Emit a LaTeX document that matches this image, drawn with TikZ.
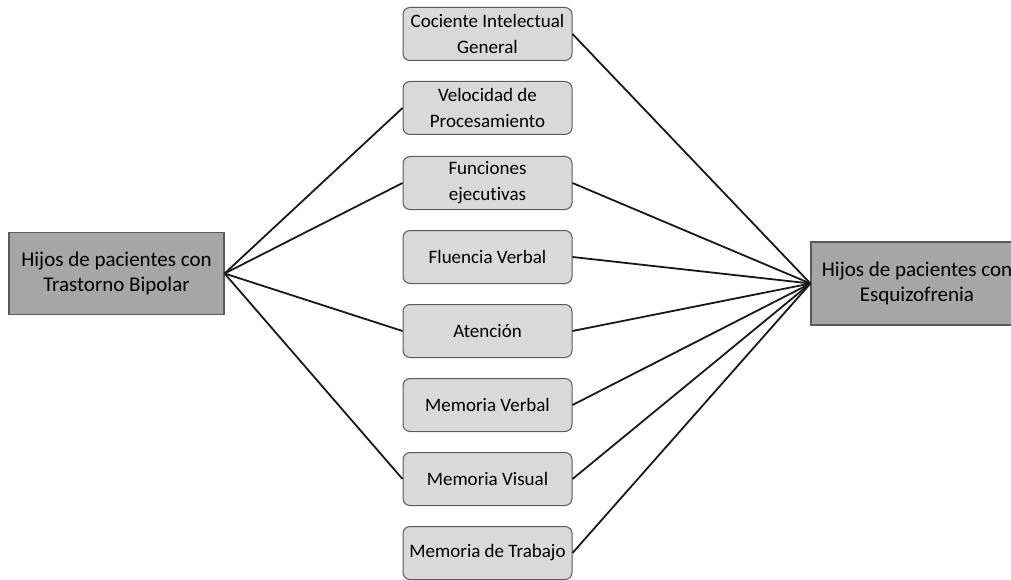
\documentclass[tikz,border=0pt]{standalone}
\usepackage{fontspec}
\setmainfont[Ligatures={NoCommon}]{Carlito}
\usetikzlibrary{positioning}
\definecolor{outerfill}{RGB}{166,166,166}
\definecolor{innerfill}{RGB}{217,217,217}
\definecolor{boxline}{RGB}{90,90,90}

\begin{document}
\begin{tikzpicture}[x=1pt,y=-1pt,
  groupbox/.style={draw=boxline,fill=outerfill,line width=1.2pt,rectangle,
                minimum height=82pt,align=center,font=\fontsize{21}{25}\selectfont},
  areabox/.style={draw=boxline,fill=innerfill,line width=1pt,rectangle,rounded corners=7pt,
                 minimum width=169pt,minimum height=53pt,inner xsep=2pt,align=center,
                 font=\fontsize{19}{26}\selectfont},
  link/.style={draw=black!90,line width=1.8pt}
]
  \useasboundingbox (0,0) rectangle (1011,580);

  % Groups
  \node[groupbox,minimum width=215pt] (bip) at (116.5,273.5) {Hijos de pacientes con\\Trastorno Bipolar};
  \node[groupbox,minimum width=212pt,minimum height=83pt] (esq) at (917,283.5) {Hijos de pacientes con\\Esquizofrenia};

  % Cognitive areas
  \foreach \y/\nm/\lbl in {34/ci/Cociente Intelectual\\General,
                           108/vp/Velocidad de\\Procesamiento,
                           183/fe/Funciones\\ejecutivas,
                           257/fv/Fluencia Verbal,
                           331/at/Atención,
                           405/mv/Memoria Verbal,
                           479/mvis/Memoria Visual,
                           553/mt/Memoria de Trabajo} {
    \node[areabox] (\nm) at (487.5,\y) {\lbl};
  }

  % Bipolar links
  \foreach \nm in {vp,fe,at,mvis}
    \draw[link] (bip.east) -- (\nm.west);

  % Schizophrenia links
  \foreach \nm in {ci,fe,fv,at,mv,mvis,mt}
    \draw[link] (esq.west) -- (\nm.east);
\end{tikzpicture}
\end{document}
